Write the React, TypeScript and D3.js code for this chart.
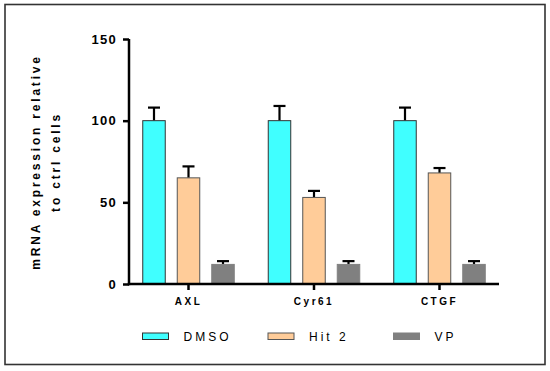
import { useEffect, useRef } from 'react'
import * as d3 from 'd3'

const categories = ['AXL', 'Cyr61', 'CTGF']
const seriesNames = ['DMSO', 'Hit 2', 'VP']
const dmsoValues = [100, 100, 100]
const dmsoErrors = [8, 9, 8]
const hit2Values = [65, 53, 68]
const hit2Errors = [7, 4, 3]
const vpValues = [12, 12, 12]
const vpErrors = [2, 2, 2]
const yTicks = [0, 50, 100, 150]

const colors = ['#40ffff', '#ffcc99', '#808080']
const strokes = ['#333', '#555', '#808080']
const FONT = '"Liberation Sans", Arial, sans-serif'

function App() {
  const svgRef = useRef<SVGSVGElement | null>(null)

  useEffect(() => {
    if (!svgRef.current) return
    const svg = d3.select(svgRef.current)
    svg.selectAll('*').remove()

    // outer frame
    svg
      .append('rect')
      .attr('x', 5)
      .attr('y', 4.5)
      .attr('width', 540)
      .attr('height', 360)
      .attr('fill', '#fff')
      .attr('stroke', '#333')
      .attr('stroke-width', 1.6)

    const values = [dmsoValues, hit2Values, vpValues]
    const errors = [dmsoErrors, hit2Errors, vpErrors]

    const x0 = d3.scaleBand().domain(categories).range([125.75, 502.25]).padding(0)
    const x1 = d3
      .scaleBand()
      .domain(seriesNames)
      .range([-45.75, 45.75])
      .paddingInner(0.348)
      .paddingOuter(0)
    const y = d3.scaleLinear().domain([0, 150]).range([284, 39])

    const rows = categories.flatMap((cat, ci) =>
      seriesNames.map((s, si) => ({ cat, s, si, v: values[si][ci], e: errors[si][ci] }))
    )

    const barX = (d: any) => x0(d.cat)! + x0.bandwidth() / 2 + x1(d.s)!

    // error bars (upper only)
    const err = svg.append('g').attr('stroke', '#000').attr('stroke-width', 2.2)
    rows.forEach((d) => {
      const cx = barX(d) + x1.bandwidth() / 2
      err
        .append('line')
        .attr('x1', cx)
        .attr('x2', cx)
        .attr('y1', y(d.v))
        .attr('y2', y(d.v + d.e))
      err
        .append('line')
        .attr('x1', cx - 6)
        .attr('x2', cx + 6)
        .attr('y1', y(d.v + d.e))
        .attr('y2', y(d.v + d.e))
    })

    svg
      .append('g')
      .selectAll('rect')
      .data(rows)
      .enter()
      .append('rect')
      .attr('x', (d) => barX(d))
      .attr('y', (d) => y(d.v))
      .attr('width', x1.bandwidth())
      .attr('height', (d) => y(0) - y(d.v))
      .attr('fill', (d) => colors[d.si])
      .attr('stroke', (d) => strokes[d.si])
      .attr('stroke-width', 1)

    // y axis
    const yAxis = svg
      .append('g')
      .attr('transform', 'translate(129,0)')
      .call(d3.axisLeft(y).tickValues(yTicks).tickSize(6).tickPadding(6).tickFormat(d3.format('d')))
    yAxis.select('.domain').attr('stroke', '#000').attr('stroke-width', 2.5).attr('d', `M0,${y(150)}V${y(0) + 1.2}`)
    yAxis.selectAll('.tick line').attr('stroke', '#000').attr('stroke-width', 2.5)
    yAxis
      .selectAll('.tick text')
      .attr('fill', '#000')
      .style('font-family', FONT)
      .style('font-weight', 'bold')
      .style('font-size', '13px')
      .style('letter-spacing', '1.3px')

    // x axis
    const xAxis = svg
      .append('g')
      .attr('transform', `translate(0,${y(0)})`)
      .call(d3.axisBottom(x0).tickSize(6).tickPadding(8))
    xAxis.select('.domain').attr('stroke', '#000').attr('stroke-width', 2.5).attr('d', 'M127.8,0H499')
    xAxis.selectAll('.tick line').attr('stroke', '#000').attr('stroke-width', 2.5)
    xAxis
      .selectAll('.tick text')
      .attr('fill', '#000')
      .style('font-family', FONT)
      .style('font-weight', 'bold')
      .style('font-size', '10px')
      .style('letter-spacing', '2.5px')

    // y axis title
    const title = svg
      .append('text')
      .attr('transform', 'translate(0,162) rotate(-90)')
      .attr('text-anchor', 'middle')
      .style('font-family', FONT)
      .style('font-weight', 'bold')
      .style('font-size', '12px')
      .style('letter-spacing', '2.8px')
    title.append('tspan').attr('x', 0).attr('y', 39.5).text('mRNA expression relative')
    title.append('tspan').attr('x', 0).attr('y', 60).text('to ctrl cells')

    // legend
    const legend = svg.append('g')
    seriesNames.forEach((s, i) => {
      const lx = x0(categories[i])! + x0.bandwidth() / 2 - 46
      legend
        .append('rect')
        .attr('x', lx)
        .attr('y', 333)
        .attr('width', 26)
        .attr('height', 6.5)
        .attr('fill', colors[i])
        .attr('stroke', strokes[i])
        .attr('stroke-width', 1)
      legend
        .append('text')
        .attr('x', lx + 41)
        .attr('y', 341)
        .style('font-family', FONT)
        .style('font-size', '12px')
        .style('letter-spacing', '3px')
        .text(s)
    })
  }, [])

  return (
    <svg
      ref={svgRef}
      width={550}
      height={371}
      style={{ position: 'absolute', left: 0, top: 0, background: '#fff' }}
    />
  )
}

export default App
